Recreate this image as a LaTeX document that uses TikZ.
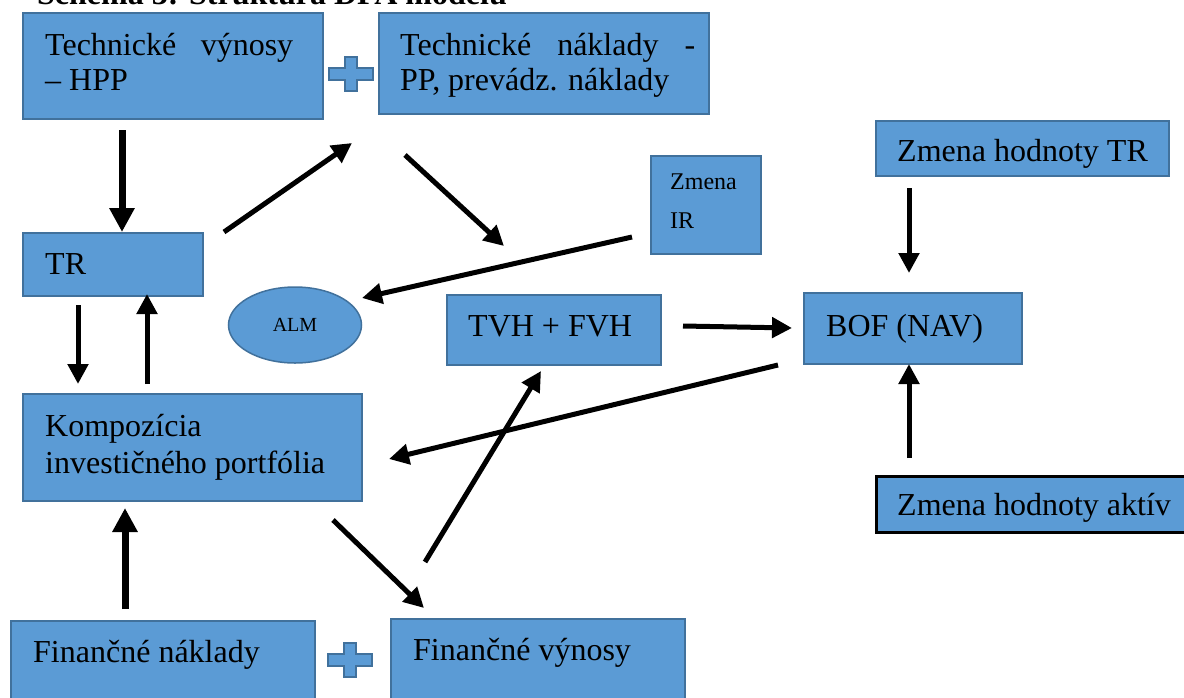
\documentclass[tikz,border=0pt]{standalone}
\usepackage{fontspec}
\setmainfont{Liberation Serif}
\usetikzlibrary{arrows.meta,shapes.geometric,calc}
\definecolor{boxfill}{HTML}{5B9BD5}
\definecolor{boxline}{HTML}{41719C}
\tikzset{
  box/.style={draw=boxline, line width=1.5pt, fill=boxfill, rectangle, anchor=north west, inner sep=0pt},
  blackbox/.style={box, draw=black, line width=2.5pt},
  txt/.style={anchor=base west, inner sep=0pt, font=\fontsize{32}{38}\selectfont},
  smalltxt/.style={anchor=base west, inner sep=0pt, font=\fontsize{24}{28}\selectfont},
  arr/.style={line width=5pt, -{Triangle[length=20pt,width=20pt]}},
  bigarr/.style={line width=7pt, -{Triangle[length=24pt,width=24pt]}},
  plussign/.style={draw=boxline, line width=2pt, fill=boxfill, line join=miter}
}
\newcommand{\plusat}[2]{%
  \draw[plussign] ($(#1,#2)+(-22,-6)$) -- ++(16,0) -- ++(0,-11) -- ++(12,0) -- ++(0,11) -- ++(16,0)
   -- ++(0,12) -- ++(-16,0) -- ++(0,11) -- ++(-12,0) -- ++(0,-11) -- ++(-16,0) -- cycle;}
\begin{document}
\begin{tikzpicture}[x=1pt,y=-1pt]
\useasboundingbox (0,0) rectangle (1184,697);
% title (cut off at the top)
\node[anchor=base west, inner sep=0pt, font=\bfseries\fontsize{32}{38}\selectfont] (title) at (37,4) {Schéma 3: Štruktúra DFA modelu};
% boxes
\node[box, minimum width=300pt, minimum height=106pt] (A) at (22,12) {};
\node[txt] (tA1) at (45,55) {\makebox[248pt][s]{Technické výnosy}};
\node[txt] (tA2) at (45,90) {– HPP};
\plusat{351}{74}
\node[box, minimum width=330pt, minimum height=101pt] (B) at (378,12) {};
\node[txt] (tB1) at (400,55) {\makebox[295pt][s]{Technické náklady -}};
\node[txt] (tB2) at (400,90) {PP, prevádz. náklady};
\node[box, minimum width=180pt, minimum height=63pt] (TR) at (22,232) {};
\node[txt] (tTR) at (45,274) {TR};
\node[ellipse, draw=boxline, line width=1.5pt, fill=boxfill, minimum width=133pt, minimum height=76pt, inner sep=0pt, font=\fontsize{20}{24}\selectfont] (ALM) at (295,325) {ALM};
\node[box, minimum width=110pt, minimum height=98pt] (IR) at (650,155) {};
\node[smalltxt] (tIR1) at (670,189) {Zmena};
\node[smalltxt] (tIR2) at (670,228) {IR};
\node[box, minimum width=214pt, minimum height=70pt] (TVH) at (446,294) {};
\node[txt] (tTVH) at (468,336) {TVH + FVH};
\node[box, minimum width=218pt, minimum height=71pt] (BOF) at (803,292) {};
\node[txt] (tBOF) at (826,336) {BOF (NAV)};
\node[box, minimum width=293pt, minimum height=55pt] (ZTR) at (875,120) {};
\node[txt] (tZTR) at (897,161) {Zmena hodnoty TR};
\node[blackbox, minimum width=320pt, minimum height=56pt] (ZA) at (875,475) {};
\node[txt] (tZA) at (897,515) {Zmena hodnoty aktív};
\node[box, minimum width=339pt, minimum height=107pt] (K) at (22,393) {};
\node[txt] (tK1) at (45,436) {Kompozícia};
\node[txt] (tK2) at (45,473) {investičného portfólia};
\node[box, minimum width=304pt, minimum height=100pt] (FN) at (10,620) {};
\node[txt] (tFN) at (33,662) {Finančné náklady};
\plusat{350}{660}
\node[box, minimum width=294pt, minimum height=100pt] (FV) at (390,618) {};
\node[txt] (tFV) at (413,660) {Finančné výnosy};
% connector end points
\coordinate (a1s) at (122,130); \coordinate (a1e) at (122,232);
\coordinate (a2s) at (224,232); \coordinate (a2e) at (352,143);
\coordinate (a3s) at (405,155); \coordinate (a3e) at (504,246);
\coordinate (a4s) at (632,237); \coordinate (a4e) at (362,298);
\coordinate (a5s) at (78,305);  \coordinate (a5e) at (78,384);
\coordinate (a6s) at (147,384); \coordinate (a6e) at (147,294);
\coordinate (a7s) at (683,326); \coordinate (a7e) at (792,328);
\coordinate (a8s) at (778,365); \coordinate (a8e) at (389,459);
\coordinate (a9s) at (909,188); \coordinate (a9e) at (909,273);
\coordinate (a10s) at (909,458); \coordinate (a10e) at (909,364);
\coordinate (a11s) at (125,609); \coordinate (a11e) at (125,508);
\coordinate (a12s) at (333,520); \coordinate (a12e) at (424,608);
\coordinate (a13s) at (425,562); \coordinate (a13e) at (541,371);
% connectors
\draw[bigarr] (a1s) -- (a1e);
\draw[arr] (a2s) -- (a2e);
\draw[arr] (a3s) -- (a3e);
\draw[arr] (a4s) -- (a4e);
\draw[arr] (a5s) -- (a5e);
\draw[arr] (a6s) -- (a6e);
\draw[arr] (a7s) -- (a7e);
\draw[arr] (a8s) -- (a8e);
\draw[arr] (a9s) -- (a9e);
\draw[arr] (a10s) -- (a10e);
\draw[bigarr] (a11s) -- (a11e);
\draw[arr] (a12s) -- (a12e);
\draw[arr] (a13s) -- (a13e);
\end{tikzpicture}
\end{document}
